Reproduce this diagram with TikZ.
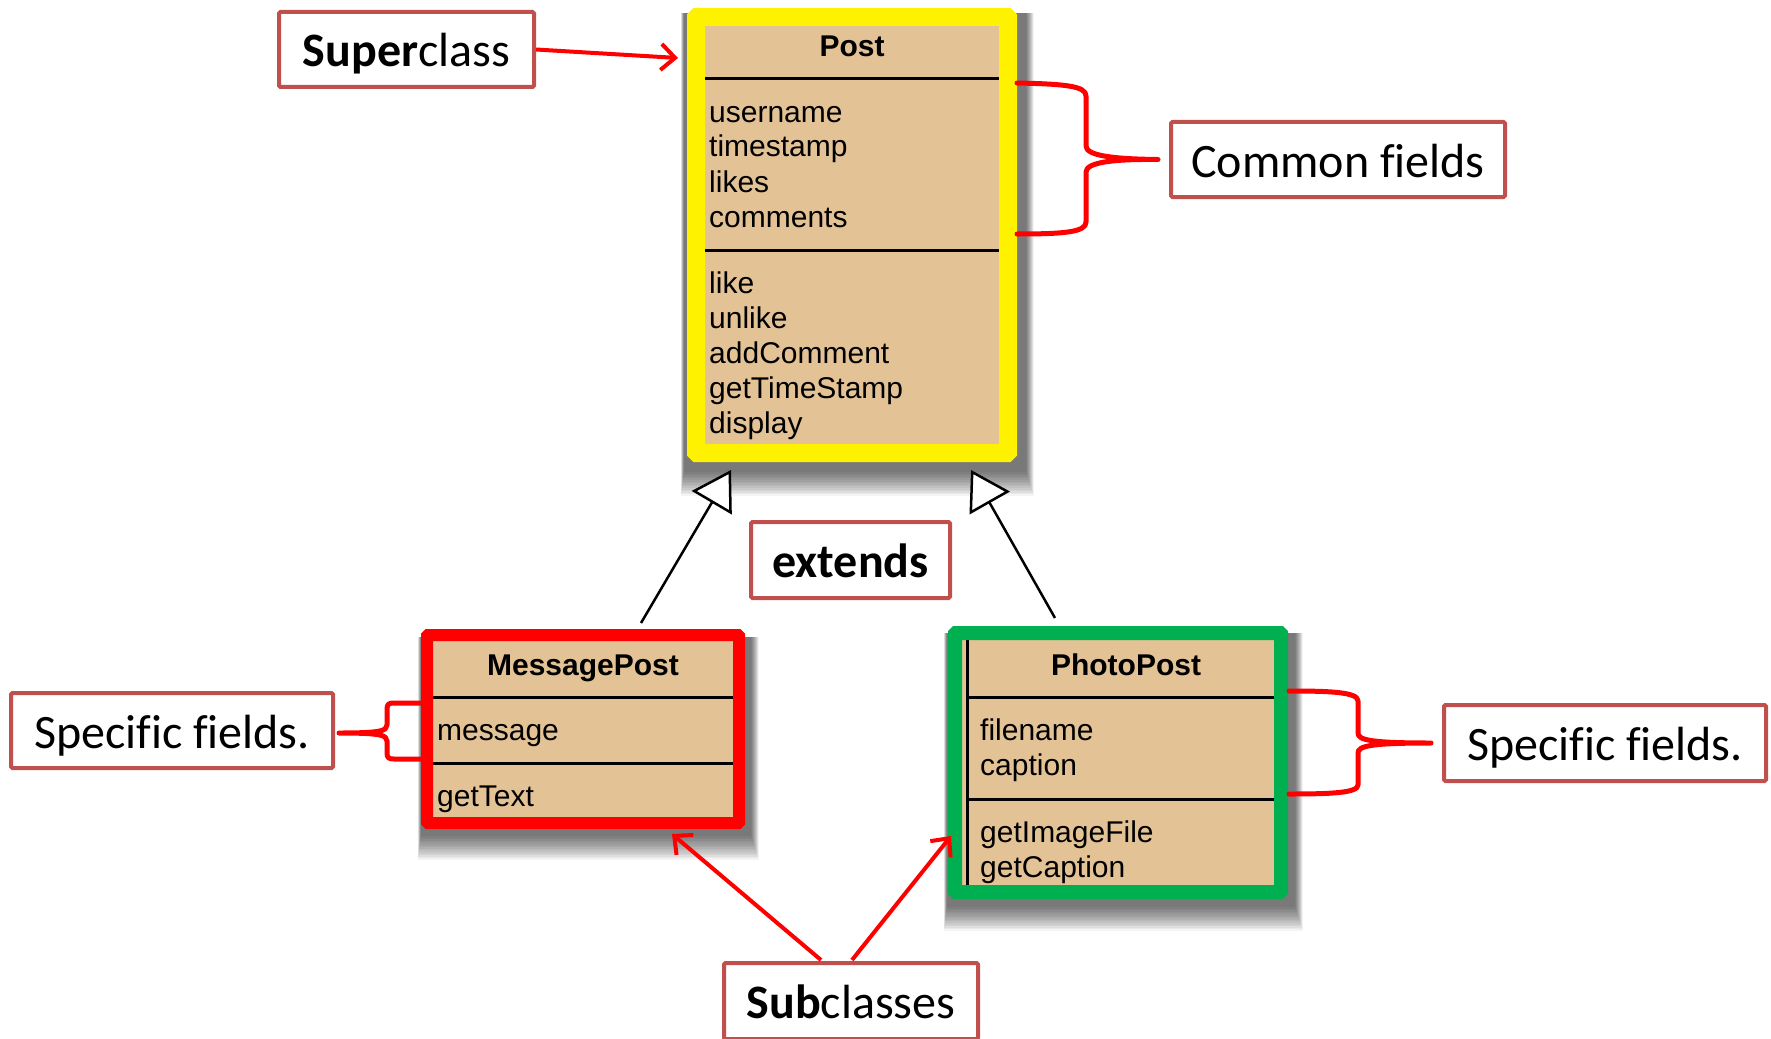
\documentclass[tikz,border=0pt]{standalone}
\usepackage{fontspec}
\setmainfont{Liberation Sans}
\newfontfamily\callfont[Ligatures=CommonOff]{Carlito}
\usetikzlibrary{arrows.meta,calc,backgrounds}
\definecolor{tanc}{RGB}{227,194,149}
\definecolor{callred}{RGB}{192,80,77}
\definecolor{ygreen}{RGB}{0,176,80}
\begin{document}
\begin{tikzpicture}[x=1pt,y=-1pt,
  callout/.style={draw=callred, line width=4pt, fill=white, rounded corners=1.5pt, inner sep=0pt,
    font=\callfont\fontsize{48}{56}\selectfont, text height=43pt, text depth=8pt},
  umlbox/.style={fill=tanc, inner sep=0pt, rounded corners=1pt},
  umltext/.style={font=\fontsize{30}{35}\selectfont, inner sep=0pt, anchor=base west},
  umltitle/.style={font=\fontsize{30}{35}\selectfont\bfseries, inner sep=0pt, anchor=base},
  sepline/.style={line width=3pt, black},
  inherit/.style={line width=2.5pt, -{Triangle[length=38pt,width=46pt,fill=white]}},
  callarrow/.style={red, line width=4pt, -{Straight Barb[length=14pt,width=26pt]}},
  brace/.style={red, line width=5pt, line cap=round, line join=round}]
\useasboundingbox (0,0) rectangle (1771,1038);
\clip (0,0) rectangle (1771,1038);

% ---------- UML classes ----------
\node[umlbox, draw=yellow, line width=18pt, minimum width=312pt, minimum height=436pt] (post) at (852,235) {};
\node[umltitle] (posttitle) at (852,57) {Post};
\draw[sepline] (705,79) -- (999,79);
\draw[sepline] (705,250) -- (999,250);
\foreach \t [count=\i] in {username,timestamp,likes,comments}
  \node[umltext] (pf\i) at (709,87+35*\i) {\t};
\foreach \t [count=\i] in {like,unlike,addComment,getTimeStamp,display}
  \node[umltext] (pm\i) at (709,258+35*\i) {\t};

\node[umlbox, draw=red, line width=12pt, minimum width=312pt, minimum height=188pt] (mp) at (583,729) {};
\node[umltitle] (mptitle) at (583,675) {MessagePost};
\draw[sepline] (433,697) -- (733,697);
\draw[sepline] (433,763) -- (733,763);
\node[umltext] (mpf1) at (437,740) {message};
\node[umltext] (mpm1) at (437,806) {getText};

\node[umlbox, draw=ygreen, line width=14pt, minimum width=326pt, minimum height=259pt] (pp) at (1118,762.5) {};
\draw[line width=3pt] (967,640) -- (967,885);
\draw[sepline] (967,697) -- (1274,697);
\draw[sepline] (967,799) -- (1274,799);
\node[umltitle] (pptitle) at (1126,675) {PhotoPost};
\node[umltext] (ppf1) at (980,740) {filename};
\node[umltext] (ppf2) at (980,775) {caption};
\node[umltext] (ppm1) at (980,842) {getImageFile};
\node[umltext] (ppm2) at (980,877) {getCaption};

% ---------- inheritance ----------
\coordinate (mpTop) at ($(mp.north)+(58,-6)$);
\coordinate (postBL) at ($(post.south)+(-121,8)$);
\coordinate (ppTop) at ($(pp.north)+(-63,-8)$);
\coordinate (postBR) at ($(post.south)+(119,8)$);
\draw[inherit] (mpTop) -- (postBL);
\draw[inherit] (ppTop) -- (postBR);

% ---------- callouts ----------
\node[callout, minimum width=255pt, minimum height=75pt] (sup) at (406.5,49.5) {\textbf{Super}class};
\node[callout, minimum width=334pt, minimum height=75pt] (common) at (1338,159.5) {Common fields};
\node[callout, minimum width=322pt, minimum height=75pt] (sfl) at (172,730.5) {Specific fields.};
\node[callout, minimum width=322pt, minimum height=76pt] (sfr) at (1605,743) {Specific fields.};
\node[callout, minimum width=199pt, minimum height=76pt] (ext) at (850.5,560) {\textbf{extends}};
\node[callout, minimum width=254pt, minimum height=76pt] (sub) at (851,1001) {\textbf{Sub}classes};

% ---------- red arrows ----------
\coordinate (supTip) at (678,58);
\draw[callarrow] (sup.east) -- (supTip);
\coordinate (subL) at ($(sub.north)+(-30,-1)$);
\coordinate (subR) at ($(sub.north)+(1,-1)$);
\coordinate (mpTip) at (672,834);
\coordinate (ppTip) at (951,836);
\draw[callarrow] (subL) -- (mpTip);
\draw[callarrow] (subR) -- (ppTip);

% ---------- braces ----------
\coordinate (cfTip) at ($(common.west)+(-11,0)$);
\draw[brace] (1017,83) .. controls (1065,84) and (1086,86) .. (1086,96) -- (1086,146)
  .. controls (1086,156) and (1115,159) .. (cfTip)
  .. controls (1115,159) and (1086,162) .. (1086,172) -- (1086,222)
  .. controls (1086,232) and (1065,234) .. (1017,234);
\coordinate (slTip) at ($(sfl.east)+(4,2.5)$);
\draw[brace] (422,703) -- (394,703) .. controls (389,703) and (387,704) .. (387,709) -- (387,725)
  .. controls (387,731) and (380,733) .. (slTip)
  .. controls (380,733) and (387,735) .. (387,741) -- (387,753)
  .. controls (387,758) and (389,759) .. (394,759) -- (422,759);
\coordinate (srTip) at ($(sfr.west)+(-11,0)$);
\draw[brace] (1289,691) .. controls (1330,691) and (1358,692) .. (1358,701) -- (1358,733)
  .. controls (1358,740) and (1370,743) .. (srTip)
  .. controls (1370,743) and (1358,746) .. (1358,753) -- (1358,785)
  .. controls (1358,793) and (1330,794) .. (1289,794);

% ---------- shadows / background ----------
\begin{pgfonlayer}{background}
\fill[white] (0,0) rectangle (1771,1038);
\foreach \n/\h in {post/9, mp/6, pp/7} {
  \foreach \k in {0,...,15}
    \fill[black, opacity=0.045] ($(\n.north west)+(-\h+6-0.2*\k,-\h+14)$) rectangle ($(\n.south east)+(\h+0.5*\k,\h+1+1.6*\k)$);
}
\end{pgfonlayer}
\end{tikzpicture}
\end{document}
